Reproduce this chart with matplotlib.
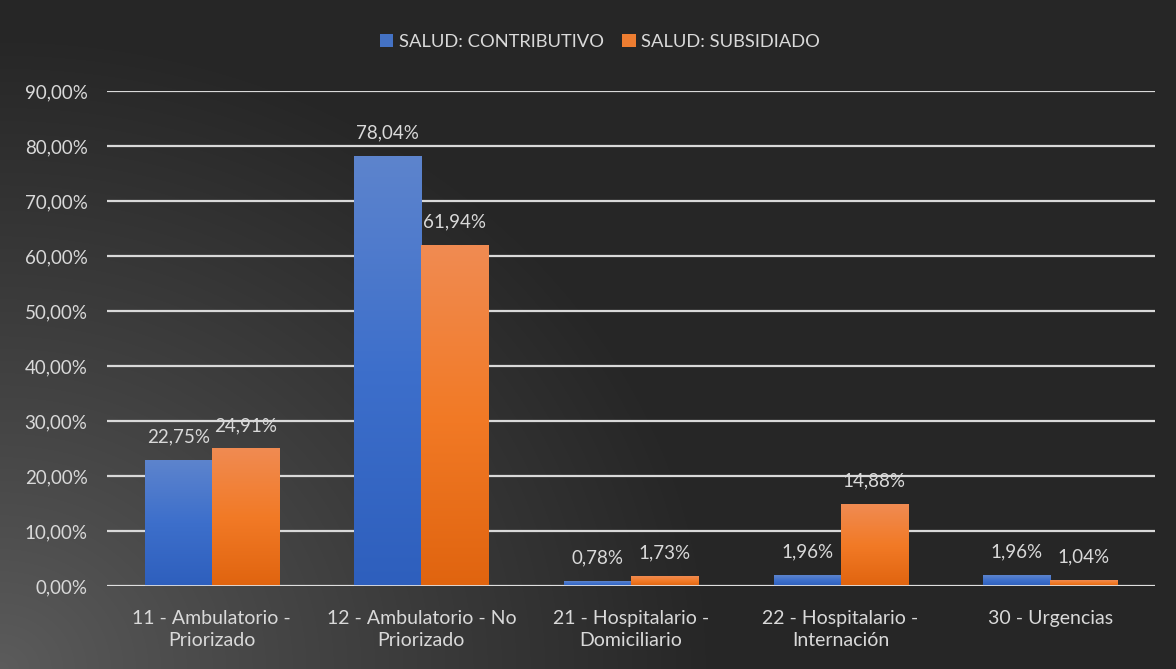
import numpy as np
import matplotlib
matplotlib.use("Agg")
import matplotlib.pyplot as plt
from matplotlib.colors import LinearSegmentedColormap

categories = ["11 - Ambulatorio -\nPriorizado", "12 - Ambulatorio - No\nPriorizado",
              "21 - Hospitalario -\nDomiciliario", "22 - Hospitalario -\nInternación",
              "30 - Urgencias"]
contributivo = [22.75, 78.04, 0.78, 1.96, 1.96]
subsidiado = [24.91, 61.94, 1.73, 14.88, 1.04]
series_names = ["SALUD: CONTRIBUTIVO", "SALUD: SUBSIDIADO"]
yticks = [0, 10, 20, 30, 40, 50, 60, 70, 80, 90]

plt.rcParams['font.family'] = ['Lato', 'DejaVu Sans']
txt = '#d9d9d9'

W, H = 1176, 669
fig = plt.figure(figsize=(W/100, H/100), dpi=100)
fig.patch.set_facecolor('#262626')

# background radial gradient (lighter at bottom-left)
bg = fig.add_axes([0, 0, 1, 1], zorder=-10)
yy, xx = np.mgrid[0:H, 0:W]
d = np.sqrt(((xx - 0) / 720.0) ** 2 + ((yy - H) / 640.0) ** 2)
t = np.clip(d, 0, 1) ** 0.9
c0 = np.array([0x5c, 0x5c, 0x5c]) / 255
c1 = np.array([0x26, 0x26, 0x26]) / 255
img = c0[None, None, :] * (1 - t[..., None]) + c1[None, None, :] * t[..., None]
bg.imshow(img, extent=[0, W, H, 0], aspect='auto')
bg.set_xlim(0, W); bg.set_ylim(H, 0)
bg.axis('off')

ax = fig.add_axes([107/W, 1 - 586/H, (1155-107)/W, (586-91)/H])
ax.set_facecolor('none')
for s in ax.spines.values():
    s.set_visible(False)

x = np.arange(len(categories))
w = 0.32
b1 = ax.bar(x - w/2, contributivo, w, color='#4472c4', zorder=3)
b2 = ax.bar(x + w/2, subsidiado, w, color='#ed7d31', zorder=3)

cm_blue = LinearSegmentedColormap.from_list('b', ['#2e5fbd', '#3d6fcb', '#5d84cd'])
cm_orng = LinearSegmentedColormap.from_list('o', ['#e0640f', '#f27a26', '#f08b52'])
grad = np.linspace(0, 1, 256).reshape(-1, 1)
for bars, cm in ((b1, cm_blue), (b2, cm_orng)):
    for p in bars:
        x0, y0 = p.get_x(), p.get_y()
        bw, bh = p.get_width(), p.get_height()
        p.set_visible(False)
        ax.imshow(grad, extent=[x0, x0 + bw, y0, y0 + bh], origin='lower',
                  cmap=cm, aspect='auto', zorder=3, vmin=0, vmax=1,
                  interpolation='bilinear')

ax.set_xlim(-0.5, len(categories) - 0.5)
ax.set_ylim(0, 90)
ax.set_yticks(yticks)
ax.set_yticklabels([f"{v:.2f}".replace('.', ',') + "%" for v in yticks])
ax.yaxis.grid(True, color='#d9d9d9', lw=1.6, zorder=1)
ax.set_axisbelow(True)
ax.tick_params(axis='y', length=0, pad=14, labelsize=13.5, labelcolor=txt)
ax.set_xticks(x)
ax.set_xticklabels(categories, fontsize=14, color=txt, linespacing=1.35)
ax.tick_params(axis='x', length=0, pad=17)
ax.axhline(0, color='#e0e0e0', lw=2, zorder=4)

for bars, vals in ((b1, contributivo), (b2, subsidiado)):
    for p, v in zip(bars, vals):
        ax.annotate(f"{v:.2f}".replace('.', ',') + "%",
                    (p.get_x() + p.get_width()/2, v), xytext=(0, 17),
                    textcoords='offset points', ha='center', va='center',
                    fontsize=13.5, color=txt, zorder=5)

leg = fig.legend([b1, b2], series_names, loc='center', bbox_to_anchor=(600/W, 1 - 42/H),
                 ncol=2, frameon=False, fontsize=13.2, handlelength=0.75, handleheight=0.75,
                 handletextpad=0.3, columnspacing=1.0)
for tx in leg.get_texts():
    tx.set_color(txt)
leg.legend_handles[0].set_facecolor('#4472c4')
leg.legend_handles[1].set_facecolor('#ed7d31')
leg.legend_handles[0].set_visible(True)
leg.legend_handles[1].set_visible(True)

fig.savefig('out.png', dpi=100, facecolor=fig.get_facecolor())
